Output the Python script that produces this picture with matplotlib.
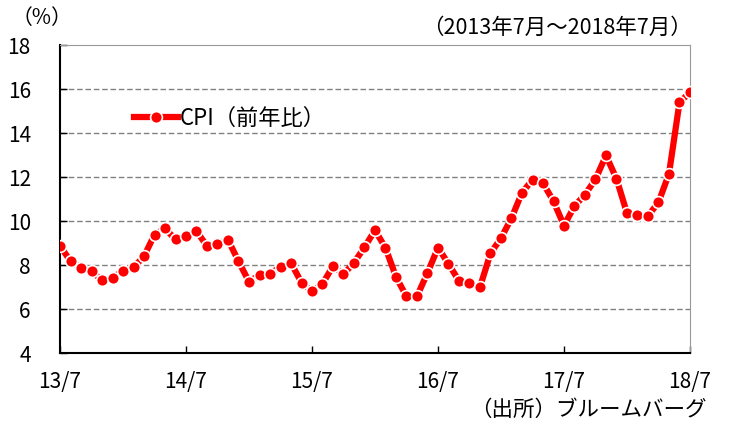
import numpy as np
import matplotlib.pyplot as plt

plt.rcParams['font.family'] = ['Noto Sans CJK JP', 'DejaVu Sans']

# Turkey CPI, year on year (%), 2013/7 - 2018/7
cpi = [
    8.88, 8.17, 7.88, 7.71, 7.32, 7.40,
    7.75, 7.89, 8.39, 9.38, 9.66, 9.16, 9.32, 9.54, 8.86, 8.96, 9.15, 8.17,
    7.24, 7.55, 7.61, 7.91, 8.09, 7.20, 6.81, 7.14, 7.95, 7.58, 8.10, 8.81,
    9.58, 8.78, 7.46, 6.57, 6.58, 7.64, 8.79, 8.05, 7.28, 7.16, 7.00, 8.53,
    9.22, 10.13, 11.29, 11.87, 11.72, 10.90, 9.79, 10.68, 11.20, 11.90, 12.98, 11.92,
    10.35, 10.26, 10.23, 10.85, 12.15, 15.39, 15.85,
]
xtick_labels = ['13/7', '14/7', '15/7', '16/7', '17/7', '18/7']
yticks = [4, 6, 8, 10, 12, 14, 16, 18]

x = np.arange(len(cpi))

fig = plt.figure(figsize=(7.29, 4.26), dpi=100)
ax = fig.add_axes([60 / 729, 1 - 353 / 426, 630 / 729, 308 / 426])

ax.plot(x, cpi, color='#ff0000', lw=4.5, marker='o', ms=8.5,
        markerfacecolor='#ff0000', markeredgecolor='white', markeredgewidth=1.2,
        label='CPI（前年比）', zorder=3)

ax.set_xlim(0, len(cpi) - 1)
ax.set_ylim(4, 18)
ax.set_xticks(np.arange(0, len(cpi), 12))
ax.set_xticklabels(xtick_labels)
ax.set_yticks(yticks)
ax.tick_params(direction='in', labelsize=15, length=5, width=1)
ax.tick_params(axis='x', pad=13)
ax.tick_params(axis='y', pad=21)

for v in yticks[1:-1]:
    ax.axhline(v, color='#808080', lw=1, ls=(0, (4, 2)), zorder=1)

ax.spines['left'].set_color('black')
ax.spines['bottom'].set_color('black')
ax.spines['left'].set_linewidth(1.5)
ax.spines['bottom'].set_linewidth(1.5)
ax.spines['top'].set_color('#999999')
ax.spines['right'].set_color('#999999')

ax.legend(loc='upper left', bbox_to_anchor=(0.085, 0.865), frameon=False,
          fontsize=16, handlelength=2.0, handletextpad=0.1)

fig.text(12 / 729, 1 - 18 / 426, '（%）', fontsize=15, va='center')
fig.text(692 / 729, 1 - 28 / 426, '（2013年7月～2018年7月）', fontsize=15.5,
         va='center', ha='right')
fig.text(707 / 729, 1 - 410 / 426, '（出所）ブルームバーグ', fontsize=15.5,
         va='center', ha='right')

plt.savefig('out.png', dpi=100)
